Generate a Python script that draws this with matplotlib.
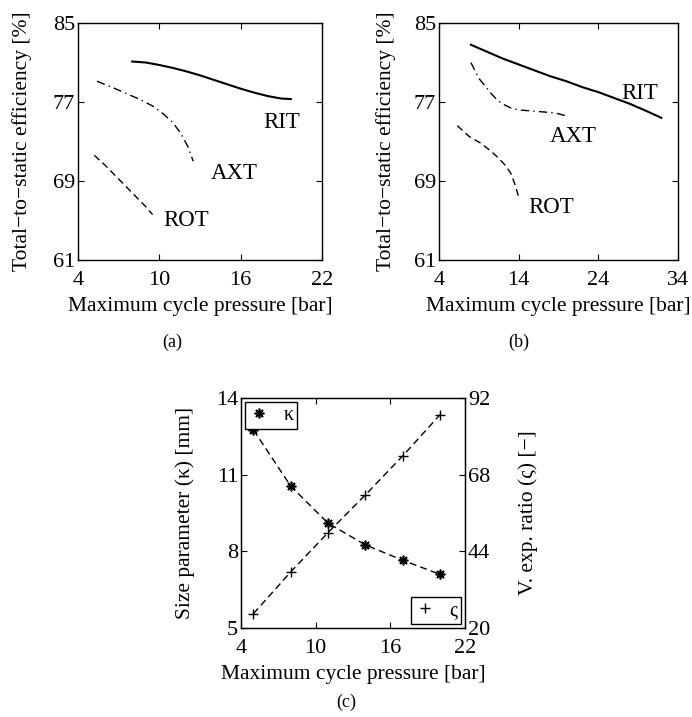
import matplotlib
matplotlib.use("Agg")
import matplotlib.pyplot as plt
from matplotlib.lines import Line2D

plt.rcParams['font.family'] = ['Liberation Serif', 'DejaVu Serif']
plt.rcParams['mathtext.fontset'] = 'stix'

# ---------------- data ----------------
# Panel (a)
a_rit_x = [8.0, 9.0, 10.0, 11.0, 12.0, 13.0, 14.0, 15.0, 16.0, 17.0, 18.0, 19.0, 19.7]
a_rit_y = [81.1, 81.0, 80.75, 80.45, 80.1, 79.7, 79.25, 78.8, 78.35, 77.95, 77.6, 77.35, 77.3]
a_axt_x = [5.4, 6.5, 7.5, 8.5, 9.5, 10.3, 11.0, 11.6, 12.1, 12.5]
a_axt_y = [79.1, 78.5, 77.9, 77.3, 76.6, 75.8, 74.9, 73.8, 72.5, 71.0]
a_rot_x = [5.2, 6.0, 7.0, 8.0, 9.0, 9.5]
a_rot_y = [71.6, 70.6, 69.2, 67.8, 66.4, 65.6]

# Panel (b)
b_rit_x = [8.0, 10.0, 12.0, 14.0, 16.0, 18.0, 20.0, 22.0, 24.0, 26.0, 28.0, 30.0, 31.9]
b_rit_y = [82.8, 82.1, 81.4, 80.8, 80.2, 79.6, 79.1, 78.5, 78.0, 77.4, 76.8, 76.1, 75.4]
b_axt_x = [8.0, 8.5, 9.0, 9.8, 10.5, 11.3, 12.0, 13.0, 14.0, 15.5, 17.0, 18.5, 20.0]
b_axt_y = [81.0, 80.2, 79.4, 78.6, 77.9, 77.2, 76.8, 76.4, 76.2, 76.1, 76.0, 75.9, 75.6]
b_rot_x = [6.3, 7.8, 9.3, 10.4, 11.5, 12.3, 13.0, 13.6, 14.1]
b_rot_y = [74.6, 73.5, 72.8, 72.1, 71.3, 70.6, 69.8, 68.5, 67.1]

# Panel (c)
c_x = [5, 8, 11, 14, 17, 20]
c_kappa = [12.75, 10.55, 9.1, 8.25, 7.65, 7.1]
c_varsigma = [24.5, 37.6, 49.9, 61.7, 73.9, 86.8]

a_xticks = [4, 10, 16, 22]
b_xticks = [4, 14, 24, 34]
eff_yticks = [61, 69, 77, 85]
c_yticks_left = [5, 8, 11, 14]
c_yticks_right = [20, 44, 68, 92]

FS = 15.5
TFS = 16

fig = plt.figure(figsize=(6.92, 7.17), dpi=100)


def style(ax, right=True):
    ax.tick_params(direction='in', top=True, right=right, labelsize=TFS,
                   length=4, width=0.8)
    ax.tick_params(axis='x', pad=8)
    ax.tick_params(axis='y', pad=2)
    for s in ax.spines.values():
        s.set_linewidth(1.0)


ASTER = (8, 2, 0)

# ---- (a)
axa = fig.add_axes([0.1127, 0.6374, 0.3526, 0.3305])
axa.plot(a_rit_x, a_rit_y, color='k', lw=1.5, ls='-')
axa.plot(a_axt_x, a_axt_y, color='k', lw=1.0, dashes=(6, 3, 1, 3))
axa.plot(a_rot_x, a_rot_y, color='k', lw=1.0, dashes=(5, 3))
axa.text(19.0, 74.9, 'RIT', fontsize=FS + 1, ha='center', va='center')
axa.text(15.5, 69.8, 'AXT', fontsize=FS + 1, ha='center', va='center')
axa.text(12.0, 65.0, 'ROT', fontsize=FS + 1, ha='center', va='center')
axa.set_xlim(4, 22)
axa.set_ylim(61, 85)
axa.set_xticks(a_xticks)
axa.set_yticks(eff_yticks)
style(axa)
axa.set_xlabel('Maximum cycle pressure [bar]', fontsize=FS, labelpad=5)
axa.set_ylabel('Total\u2212to\u2212static efficiency [%]', fontsize=FS, labelpad=15)
fig.text(0.2486, 1 - 342 / 717, '(a)', fontsize=13, ha='center', va='center')

# ---- (b)
axb = fig.add_axes([0.6344, 0.6374, 0.3454, 0.3305])
axb.plot(b_rit_x, b_rit_y, color='k', lw=1.5, ls='-')
axb.plot(b_axt_x, b_axt_y, color='k', lw=1.0, dashes=(6, 3, 1, 3))
axb.plot(b_rot_x, b_rot_y, color='k', lw=1.0, dashes=(5, 3))
axb.text(29.2, 77.9, 'RIT', fontsize=FS + 1, ha='center', va='center')
axb.text(20.8, 73.5, 'AXT', fontsize=FS + 1, ha='center', va='center')
axb.text(18.1, 66.3, 'ROT', fontsize=FS + 1, ha='center', va='center')
axb.set_xlim(4, 34)
axb.set_ylim(61, 85)
axb.set_xticks(b_xticks)
axb.set_yticks(eff_yticks)
style(axb)
axb.set_xlabel('Maximum cycle pressure [bar]', fontsize=FS, labelpad=5)
axb.set_ylabel('Total\u2212to\u2212static efficiency [%]', fontsize=FS, labelpad=13)
fig.text(0.750, 1 - 342 / 717, '(b)', fontsize=13, ha='center', va='center')

# ---- (c)
axc = fig.add_axes([0.3483, 0.1241, 0.3237, 0.3208])
axc.plot(c_x, c_kappa, color='k', lw=1.0, dashes=(5, 3), marker=ASTER,
         ms=7, mew=1.2)
axc.set_xlim(4, 22)
axc.set_ylim(5, 14)
axc.set_xticks(a_xticks)
axc.set_yticks(c_yticks_left)
style(axc, right=False)
axc.set_xlabel('Maximum cycle pressure [bar]', fontsize=FS, labelpad=5)
axc.set_ylabel('Size parameter (\u03ba) [mm]', fontsize=FS, labelpad=15)

axr = axc.twinx()
axr.plot(c_x, c_varsigma, color='k', lw=1.0, dashes=(5, 3), marker='+',
         ms=7, mew=1.0)
axr.set_ylim(20, 92)
axr.set_yticks(c_yticks_right)
axr.tick_params(direction='in', labelsize=TFS, length=4, width=0.8, pad=2)
axr.set_ylabel('V. exp. ratio (\u03c2) [\u2212]', fontsize=FS, labelpad=20)

hk = Line2D([], [], color='k', ls='none', marker=ASTER, ms=7, mew=1.2)
hs = Line2D([], [], color='k', ls='none', marker='+', ms=7)
leg_kw = dict(fontsize=FS - 1, frameon=True, fancybox=False, edgecolor='k',
              framealpha=1, borderaxespad=0.2, handlelength=1.0,
              handletextpad=0.7, borderpad=0.2)
lk = axc.legend([hk], ['\u03ba'], loc='upper left', **leg_kw)
lk.get_frame().set_linewidth(1.0)
ls = axr.legend([hs], ['\u03c2'], loc='lower right', **leg_kw)
ls.get_frame().set_linewidth(1.0)
fig.text(0.5, 1 - 702 / 717, '(c)', fontsize=13, ha='center', va='center')

fig.savefig('out.png', dpi=100)
